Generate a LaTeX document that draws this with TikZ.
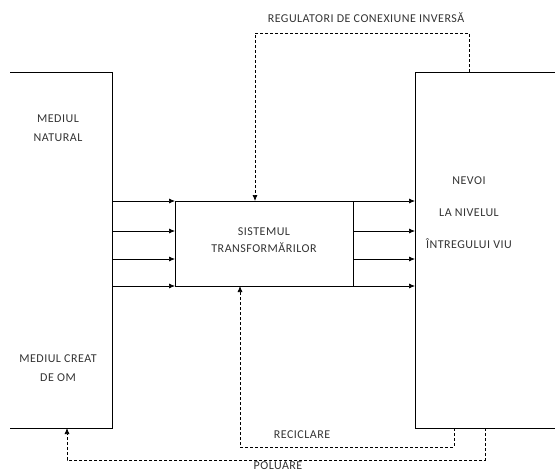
\documentclass[tikz,border=0pt]{standalone}
\usepackage{fontspec}
\setmainfont{Carlito}[LetterSpace=4]
\usetikzlibrary{arrows.meta}
\begin{document}
\begin{tikzpicture}[x=1pt,y=-1pt,
  lbl/.style={font=\fontsize{12}{14}\selectfont, text=black!80, inner sep=0pt, align=center},
  flow/.style={-{Latex[length=6pt,width=5pt]}, line width=0.7pt},
  fb/.style={dashed, dash pattern=on 3pt off 2pt, line width=0.7pt},
  fbarrow/.style={fb,-{Latex[length=6pt,width=5pt]}},
  edge/.style={line width=0.7pt}]
\useasboundingbox (0,0) rectangle (555,472);
% boxes
\coordinate (L1) at (10,72); \coordinate (L2) at (112,72); \coordinate (L3) at (112,428); \coordinate (L4) at (10,428);
\draw[edge] (L1) -- (L2) -- (L3) -- (L4);
\coordinate (R1) at (555,72); \coordinate (R2) at (415,72); \coordinate (R3) at (415,428); \coordinate (R4) at (555,428);
\draw[edge] (R1) -- (R2) -- (R3) -- (R4);
\node[draw, line width=0.7pt, minimum width=178pt, minimum height=85pt, inner sep=0pt] (C) at (264,243.5) {};
% texts
\node[lbl] (t1) at (58,119) {MEDIUL};
\node[lbl] (t2) at (58,138) {NATURAL};
\node[lbl] (t3) at (58,359) {MEDIUL CREAT};
\node[lbl] (t4) at (58,378) {DE OM};
\node[lbl] (t5) at (469,181) {NEVOI};
\node[lbl] (t6) at (469,213) {LA NIVELUL};
\node[lbl] (t7) at (469,244) {ÎNTREGULUI VIU};
\node[lbl] (t8) at (264,232) {SISTEMUL};
\node[lbl] (t9) at (264,248) {TRANSFORMĂRILOR};
\node[lbl] (t10) at (366,18) {REGULATORI DE CONEXIUNE INVERSĂ};
\node[lbl] (t11) at (302,435) {RECICLARE};
\node[lbl] (t12) at (278,465.5) {POLUARE};
% flow arrows
\foreach \yy [count=\i] in {201,231,259,286} {
  \coordinate (a\i) at (112,\yy); \coordinate (b\i) at (175,\yy);
  \coordinate (c\i) at (353,\yy); \coordinate (d\i) at (415,\yy);
  \draw[flow] (a\i) -- (b\i);
  \draw[flow] (c\i) -- (d\i);
}
% feedback
\coordinate (f1) at (469,72); \coordinate (f2) at (255,201);
\draw[fbarrow] (f1) -- (469,33) -| (f2);
\coordinate (r1) at (454,428); \coordinate (r2) at (240,286);
\draw[fbarrow] (r1) -- (454,447) -| (r2);
\coordinate (p1) at (485,428); \coordinate (p2) at (67,428);
\draw[fbarrow] (p1) -- (485,460) -| (p2);
\end{tikzpicture}
\end{document}
